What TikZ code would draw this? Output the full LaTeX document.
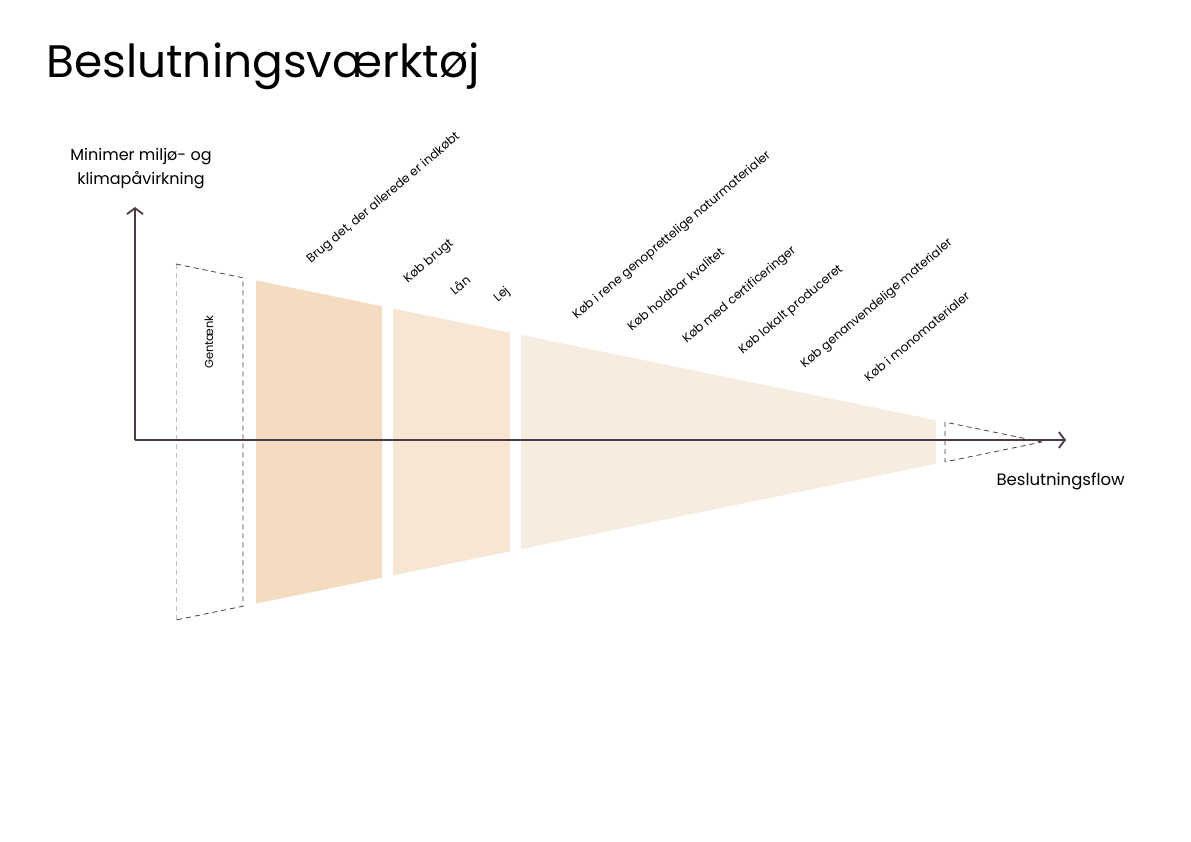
\documentclass[tikz,border=0pt]{standalone}
\usepackage{fontspec}
\setmainfont{Poppins}
\usetikzlibrary{arrows.meta}
\definecolor{axisc}{HTML}{4B3A47}
\definecolor{stageone}{HTML}{F3DCC0}
\definecolor{stagetwo}{HTML}{F6E6D3}
\definecolor{stagethree}{HTML}{F7ECE0}
\tikzset{
  axis/.style={draw=axisc, line width=1.8pt, -{Straight Barb[length=6pt,width=16pt,line width=1.8pt]}},
  stepnote/.style={rotate=40, anchor=south west, inner sep=0pt, font=\fontsize{12.2}{14}\selectfont},
  dashbox/.style={draw=axisc, dashed, line width=0.8pt, dash pattern=on 5pt off 4pt}
}
\begin{document}
\begin{tikzpicture}[x=1pt, y=-1pt]
    \useasboundingbox[fill=white] (0,0) rectangle (1191,842);
    \node[anchor=base west, inner sep=0pt, font=\fontsize{45.5}{54}\selectfont] (title) at (46,78) {Beslutningsværktøj};
    \fill[stageone] (256,280.4) -- (382,306.3) -- (382,577.7) -- (256,603.6) -- cycle;
    \fill[stagetwo] (393,308.6) -- (510,332.7) -- (510,551.3) -- (393,575.4) -- cycle;
    \fill[stagethree] (521,334.9) -- (936,420.2) -- (936,463.8) -- (521,549.1) -- cycle;
    \draw[draw=lightgray, dashed, line width=0.6pt, dash pattern=on 5pt off 4pt] (176,620) -- (176,264);
    \draw[dashbox] (176,264) -- (243,277.8) -- (243,606.2) -- (176,620);
    \draw[dashbox] (1042,442) -- (945,422.1) -- (945,461.9) -- (1042,442);
    \coordinate (origin) at (135,440);
    \coordinate (ytip) at (135,207);
    \coordinate (xtip) at (1066,440);
    \draw[axis] (origin) -- (ytip);
    \draw[axis] (origin) -- (xtip);
    \node[align=center, font=\fontsize{16}{24}\selectfont] (ylabel) at (141,169) {Minimer miljø- og\\klimapåvirkning};
    \node[anchor=west, font=\fontsize{16.5}{20}\selectfont] (xlabel) at (993,481) {Beslutningsflow};
    \node[rotate=90, font=\fontsize{11.5}{13}\selectfont] (rethink) at (209,342) {Gentænk};
    \node[stepnote] (reuse) at (313,266) {Brug det, der allerede er indkøbt};
    \node[stepnote] (used) at (410,286) {Køb brugt};
    \node[stepnote] (borrow) at (455,296) {Lån};
    \node[stepnote] (rent) at (500,305) {Lej};
    \node[stepnote] (natural) at (579,322) {Køb i rene genoprettelige naturmaterialer};
    \node[stepnote] (quality) at (632,332) {Køb holdbar kvalitet};
    \node[stepnote] (certified) at (689,346) {Køb med certificeringer};
    \node[stepnote] (local) at (745,357) {Køb lokalt produceret};
    \node[stepnote] (recyclable) at (807,371) {Køb genanvendelige materialer};
    \node[stepnote] (mono) at (869,383) {Køb i monomaterialer};
\end{tikzpicture}
\end{document}
